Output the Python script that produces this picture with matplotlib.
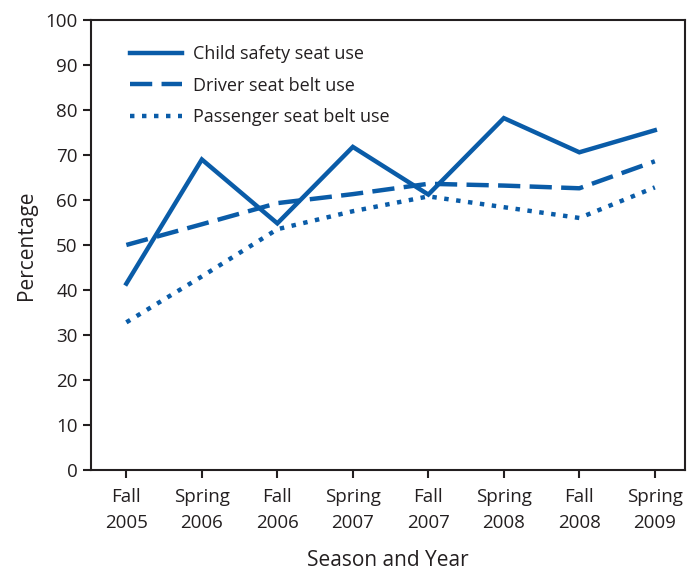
import matplotlib
matplotlib.use("Agg")
import matplotlib.pyplot as plt

seasons = ["Fall\n2005", "Spring\n2006", "Fall\n2006", "Spring\n2007",
           "Fall\n2007", "Spring\n2008", "Fall\n2008", "Spring\n2009"]
child_seat = [41.4, 69.0, 54.8, 71.8, 61.2, 78.2, 70.6, 75.5]
driver_belt = [50.0, 54.6, 59.3, 61.3, 63.6, 63.2, 62.6, 68.6]
passenger_belt = [32.8, 43.0, 53.5, 57.5, 60.8, 58.4, 56.0, 62.8]

BLUE = "#0a5ca8"
INK = "#231f20"

plt.rcParams.update({
    "font.family": ["Open Sans", "DejaVu Sans"],
    "text.color": INK,
    "axes.labelcolor": INK,
    "xtick.color": INK,
    "ytick.color": INK,
})

fig = plt.figure(figsize=(6.99, 5.73), dpi=100)
ax = fig.add_axes([0.130, 0.180, 0.850, 0.785])

x = range(len(seasons))
ax.plot(x, child_seat, color=BLUE, lw=3.2, solid_joinstyle="miter",
        label="Child safety seat use")
ax.plot(x, driver_belt, color=BLUE, lw=3.2, linestyle=(0, (5.0, 2.1)),
        dash_capstyle="butt", label="Driver seat belt use")
ax.plot(x, passenger_belt, color=BLUE, lw=3.2, linestyle=(0, (1, 1.7)),
        dash_capstyle="butt", label="Passenger seat belt use")

ax.set_xlim(-0.47, 7.4)
ax.set_ylim(0, 100)
ax.set_yticks(range(0, 101, 10))
ax.set_xticks(list(x))
ax.set_xticklabels(seasons, fontsize=13.5, linespacing=1.55)
ax.tick_params(axis="y", labelsize=13.5, length=6, width=1.5, direction="out")
ax.tick_params(axis="x", length=6, width=1.5, direction="out", pad=7)
for s in ax.spines.values():
    s.set_linewidth(1.5)
    s.set_color(INK)

ax.set_xlabel("Season and Year", fontsize=15, labelpad=13)
ax.set_ylabel("Percentage", fontsize=15, labelpad=6)

leg = ax.legend(loc="upper left", frameon=False, fontsize=13,
                handlelength=2.9, handletextpad=0.6, labelspacing=0.75,
                borderpad=0, borderaxespad=0,
                bbox_to_anchor=(0.066, 0.944))

fig.savefig("out.png", dpi=100)
